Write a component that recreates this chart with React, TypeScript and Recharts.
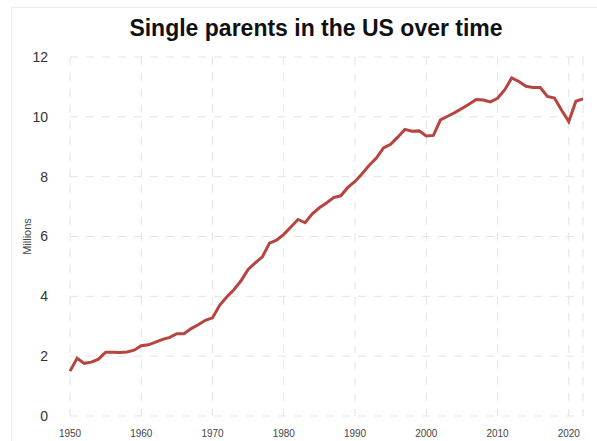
import { CartesianGrid, Label, Line, LineChart, XAxis, YAxis } from 'recharts'

const years = [
  1950, 1951, 1952, 1953, 1954, 1955, 1956, 1957, 1958, 1959,
  1960, 1961, 1962, 1963, 1964, 1965, 1966, 1967, 1968, 1969,
  1970, 1971, 1972, 1973, 1974, 1975, 1976, 1977, 1978, 1979,
  1980, 1981, 1982, 1983, 1984, 1985, 1986, 1987, 1988, 1989,
  1990, 1991, 1992, 1993, 1994, 1995, 1996, 1997, 1998, 1999,
  2000, 2001, 2002, 2003, 2004, 2005, 2006, 2007, 2008, 2009,
  2010, 2011, 2012, 2013, 2014, 2015, 2016, 2017, 2018, 2019,
  2020, 2021, 2022,
]

// single parents, millions
const parents = [
  1.5, 1.93, 1.76, 1.8, 1.9, 2.13, 2.13, 2.12, 2.14, 2.2,
  2.35, 2.38, 2.47, 2.56, 2.63, 2.75, 2.75, 2.92, 3.05, 3.2,
  3.28, 3.7, 3.98, 4.22, 4.52, 4.9, 5.12, 5.32, 5.78, 5.88,
  6.07, 6.32, 6.57, 6.46, 6.76, 6.96, 7.12, 7.3, 7.36, 7.64,
  7.84, 8.1, 8.38, 8.62, 8.96, 9.08, 9.32, 9.58, 9.52, 9.53,
  9.36, 9.38, 9.9, 10.02, 10.14, 10.28, 10.42, 10.58, 10.56, 10.5,
  10.62, 10.9, 11.3, 11.18, 11.02, 10.98, 10.98, 10.68, 10.63, 10.22,
  9.84, 10.52, 10.6,
]

const xTicks = [1950, 1960, 1970, 1980, 1990, 2000, 2010, 2020]
const yTicks = [0, 2, 4, 6, 8, 10, 12]

const data = years.map((year, i) => ({ year, value: parents[i] }))

export default function App() {
  return (
    <div style={{ position: 'absolute', left: 0, top: 0, width: 597, height: 441, background: '#fff', overflow: 'hidden' }}>
      <div
        style={{
          position: 'absolute',
          left: 11,
          top: 7,
          width: 600,
          height: 460,
          border: '1px solid #ececec',
        }}
      />
      <div
        style={{
          position: 'absolute',
          left: 0,
          top: 15,
          width: 632,
          textAlign: 'center',
          fontFamily: '"Liberation Sans", Arial, sans-serif',
          fontWeight: 'bold',
          fontSize: 23,
          color: '#111',
        }}
      >
        Single parents in the US over time
      </div>
      <LineChart
        width={597}
        height={441}
        data={data}
        margin={{ top: 57, right: 14, bottom: 0, left: 0 }}
        style={{ position: 'absolute', left: 0, top: 0 }}
      >
        <CartesianGrid stroke="#e2e2e2" strokeDasharray="8 8" />
        <XAxis
          dataKey="year"
          type="number"
          domain={[1950, 2022]}
          ticks={xTicks}
          height={25}
          axisLine={false}
          tickLine={false}
          tickSize={0}
          tickMargin={14}
          tick={{ fill: '#444', fontSize: 10, fontFamily: '"Liberation Sans Narrow", "Liberation Sans", sans-serif' }}
        />
        <YAxis
          type="number"
          domain={[0, 12]}
          ticks={yTicks}
          width={70}
          axisLine={false}
          tickLine={false}
          tickSize={0}
          tickMargin={22}
          tick={{ fill: '#333', fontSize: 14, fontFamily: '"Liberation Sans", Arial, sans-serif' }}
        >
          <Label
            value="Millions"
            angle={-90}
            position="insideLeft"
            offset={27}
            style={{ fill: '#444', fontSize: 11, fontFamily: '"Liberation Sans", Arial, sans-serif', textAnchor: 'middle' }}
          />
        </YAxis>
        <Line
          type="linear"
          dataKey="value"
          stroke="#b8443f"
          strokeWidth={3}
          dot={false}
          isAnimationActive={false}
        />
      </LineChart>
    </div>
  )
}
